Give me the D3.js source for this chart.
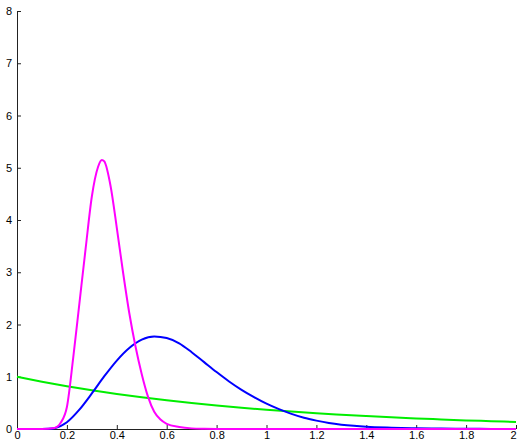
<!DOCTYPE html>
<html>
<head>
<meta charset="utf-8">
<script src="https://cdn.jsdelivr.net/npm/d3@7"></script>
<style>
  html, body { margin: 0; padding: 0; background: #fff; }
  svg { display: block; }
  .tick text { font-family: "Liberation Sans", Arial, Helvetica, sans-serif; font-size: 11px; fill: #000; }
</style>
</head>
<body>
<div id="chart"></div>
<script>
// tick labels
const xTicks = [0, 0.2, 0.4, 0.6, 0.8, 1, 1.2, 1.4, 1.6, 1.8, 2];
const yTicks = [0, 1, 2, 3, 4, 5, 6, 7, 8];

// green curve
const greenX = [0, 0.1, 0.2, 0.3, 0.4, 0.5, 0.6, 0.7, 0.8, 0.9, 1, 1.1, 1.2, 1.3, 1.4, 1.5, 1.6, 1.7, 1.8, 1.9, 2];
const greenY = [1.0, 0.905, 0.819, 0.741, 0.670, 0.607, 0.549, 0.497, 0.449, 0.407, 0.368, 0.333, 0.301, 0.273, 0.247, 0.223, 0.202, 0.183, 0.165, 0.150, 0.135];

// blue curve
const blueX = [0, 0.1, 0.125, 0.15, 0.2, 0.25, 0.3, 0.35, 0.4, 0.45, 0.5, 0.55, 0.6, 0.65, 0.7, 0.75, 0.8, 0.85, 0.9, 0.95, 1, 1.05, 1.1, 1.15, 1.2, 1.25, 1.3, 1.35, 1.4, 1.5, 1.6, 1.7, 1.8, 1.9, 2];
const blueY = [0, 0, 0.003, 0.015, 0.13, 0.37, 0.68, 1.01, 1.31, 1.55, 1.71, 1.77, 1.74, 1.64, 1.47, 1.28, 1.09, 0.91, 0.75, 0.61, 0.485, 0.38, 0.29, 0.215, 0.16, 0.115, 0.083, 0.06, 0.043, 0.025, 0.014, 0.008, 0.004, 0.002, 0.001];

// magenta curve
const magentaX = [0, 0.1, 0.15, 0.175, 0.2, 0.225, 0.25, 0.275, 0.3, 0.325, 0.34, 0.35, 0.375, 0.4, 0.425, 0.45, 0.475, 0.5, 0.525, 0.55, 0.575, 0.6, 0.65, 0.7, 0.75, 0.8, 1, 1.5, 2];
const magentaY = [0, 0, 0.02, 0.12, 0.42, 1.35, 2.40, 3.45, 4.45, 5.02, 5.15, 5.12, 4.65, 3.85, 3.00, 2.22, 1.58, 1.05, 0.62, 0.33, 0.18, 0.10, 0.04, 0.012, 0.003, 0, 0, 0, 0];

const width = 517;
const height = 441;
const margin = { top: 11, right: 1, bottom: 12, left: 17 };

const svg = d3.select('#chart').append('svg')
  .attr('width', width)
  .attr('height', height);

const x = d3.scaleLinear()
  .domain([0, 2])
  .range([margin.left, width - margin.right]);

const y = d3.scaleLinear()
  .domain([0, 8])
  .range([height - margin.bottom, margin.top]);

// axes, ticks pointing into the plot
const xAxis = svg.append('g')
  .attr('transform', `translate(0,${height - margin.bottom})`)
  .call(d3.axisBottom(x).tickValues(xTicks).tickFormat(d3.format('~g')).tickSize(-4).tickPadding(2));

const yAxis = svg.append('g')
  .attr('transform', `translate(${margin.left},0)`)
  .call(d3.axisLeft(y).tickValues(yTicks).tickFormat(d3.format('~g')).tickSize(-4).tickPadding(5));

[xAxis, yAxis].forEach(function(a) {
  a.select('.domain').attr('stroke', '#222').attr('stroke-width', 1);
  a.selectAll('.tick line').attr('stroke', '#222');
});
yAxis.select('.domain').attr('d', `M0.5,${height - margin.bottom}V${margin.top}`);
xAxis.select('.domain').attr('d', `M${margin.left},0.5H${width - margin.right}`);

// last label sits on the page edge, nudge it in so it isn't clipped
xAxis.selectAll('.tick text')
  .filter(function(d) { return d === 2; })
  .attr('x', -3);

const line = d3.line()
  .x(function(d) { return x(d[0]); })
  .y(function(d) { return y(d[1]); })
  .curve(d3.curveMonotoneX);

const series = [
  { xs: greenX, ys: greenY, color: '#00ee00' },
  { xs: blueX, ys: blueY, color: '#0000ff' },
  { xs: magentaX, ys: magentaY, color: '#ff00ff' }
];

series.forEach(function(s) {
  svg.append('path')
    .datum(s.xs.map(function(v, i) { return [v, s.ys[i]]; }))
    .attr('fill', 'none')
    .attr('stroke', s.color)
    .attr('stroke-width', 2)
    .attr('stroke-linejoin', 'round')
    .attr('d', line);
});
</script>
</body>
</html>
